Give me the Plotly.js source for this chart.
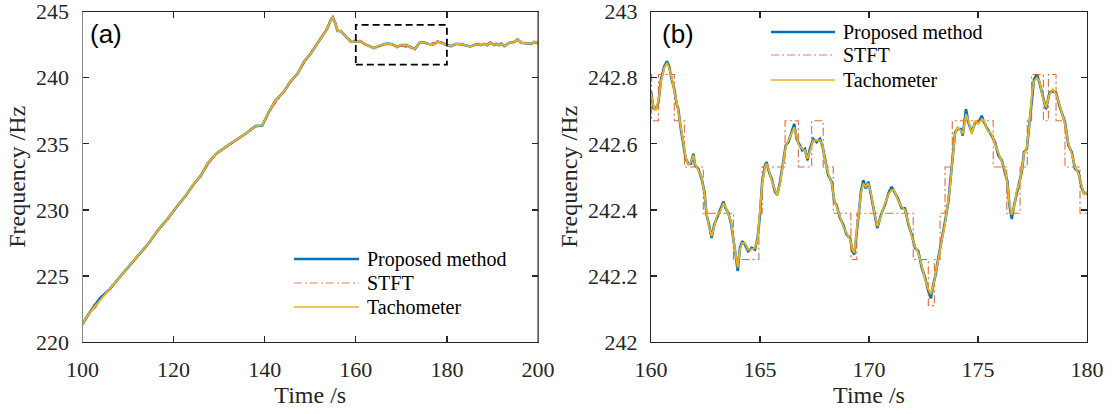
<!DOCTYPE html>
<html>
<head>
<meta charset="utf-8">
<script src="https://cdn.plot.ly/plotly-3.0.1.min.js"></script>
<style>html,body{margin:0;padding:0;background:#fff;}#chart{width:1113px;height:414px;}</style>
</head>
<body>
<div id="chart"></div>
<script>
// ---------- panel (a): 100-200 s ----------
const leftTime = [100, 101.6, 103.8, 106.0, 108.15, 110.3, 112.5, 114.7, 116.5, 118.7, 120.9, 122.7, 124.2, 126.0, 127.4, 129.3, 131.4, 133.6, 135.8, 138.0, 139.45, 140.9, 142.4, 144.2, 145.6, 147.2, 148.6, 150.1, 151.6, 152.7, 153.8, 154.5, 154.95, 155.5, 156.0, 156.7, 157.4, 158.2, 158.9, 160, 161, 162, 163, 164, 165, 166, 167, 168, 169, 170, 171, 172, 173, 174, 175, 176, 177, 178, 179, 180, 180.9, 182.0, 183.1, 184.2, 185.1, 186.0, 186.7, 187.5, 188.2, 188.9, 189.5, 190.4, 190.8, 191.5, 191.9, 192.6, 193.7, 194.8, 195.5, 196.3, 197.4, 198.5, 199.2, 199.9, 200];
const leftTacho = [221.36, 222.25, 223.14, 224.0, 224.9, 225.79, 226.67, 227.55, 228.44, 229.32, 230.33, 231.09, 231.85, 232.6, 233.48, 234.24, 234.75, 235.26, 235.76, 236.34, 236.39, 237.4, 238.29, 238.92, 239.7, 240.3, 241.2, 241.84, 242.6, 243.1, 243.75, 244.38, 244.58, 244.13, 243.54, 243.54, 243.29, 242.98, 242.73, 242.75, 242.78, 242.54, 242.38, 242.24, 242.39, 242.52, 242.58, 242.54, 242.32, 242.48, 242.47, 242.31, 242.19, 242.65, 242.66, 242.55, 242.52, 242.72, 242.66, 242.45, 242.4, 242.55, 242.55, 242.45, 242.37, 242.47, 242.56, 242.47, 242.57, 242.47, 242.68, 242.48, 242.57, 242.47, 242.6, 242.4, 242.65, 242.7, 242.9, 242.65, 242.6, 242.57, 242.72, 242.6, 242.62];
const leftProposed = [221.36, 222.25, 223.3, 224.0, 224.9, 225.79, 226.67, 227.55, 228.44, 229.32, 230.33, 231.09, 231.85, 232.6, 233.48, 234.24, 234.75, 235.26, 235.76, 236.34, 236.39, 237.4, 238.29, 238.92, 239.7, 240.3, 241.2, 241.84, 242.6, 243.1, 243.75, 244.38, 244.58, 244.13, 243.54, 243.54, 243.29, 242.98, 242.73, 242.75, 242.78, 242.54, 242.38, 242.24, 242.39, 242.52, 242.58, 242.54, 242.32, 242.48, 242.47, 242.31, 242.19, 242.65, 242.66, 242.55, 242.52, 242.72, 242.66, 242.45, 242.4, 242.55, 242.55, 242.45, 242.37, 242.47, 242.56, 242.47, 242.57, 242.47, 242.68, 242.48, 242.57, 242.47, 242.6, 242.4, 242.65, 242.7, 242.9, 242.65, 242.6, 242.57, 242.72, 242.6, 242.62];
const leftStftTime = [100, 101.6, 102.3, 102.5, 102.7, 103.8, 106.0, 110.3, 114.7, 118.7, 122.7, 126.0, 129.3, 133.6, 138.0, 139.45, 140.9, 144.2, 147.2, 150.1, 152.7, 154.5, 154.95, 155.5, 156.0, 156.7, 158.2, 160, 162, 164, 166, 168, 170, 172, 173, 174, 176, 178, 180, 182.0, 184.2, 186.0, 188.2, 189.5, 190.4, 192.6, 193.7, 195.5, 196.3, 198.5, 199.2, 200];
const leftStftFreq = [221.36, 222.25, 222.4, 223.0, 222.5, 223.14, 224.0, 225.79, 227.55, 229.32, 231.09, 232.6, 234.24, 235.26, 236.34, 236.39, 237.4, 238.92, 240.3, 241.84, 243.1, 244.38, 244.58, 244.13, 243.54, 243.54, 242.98, 242.81, 242.53, 242.25, 242.53, 242.53, 242.39, 242.25, 242.11, 242.67, 242.53, 242.81, 242.39, 242.53, 242.39, 242.53, 242.53, 242.67, 242.53, 242.39, 242.67, 242.81, 242.67, 242.53, 242.67, 242.53];

// ---------- panel (b): 160-180 s ----------
const rightTime = [160.00, 160.11, 160.21, 160.34, 160.46, 160.61, 160.73, 160.83, 160.95, 161.07, 161.18, 161.25, 161.38, 161.48, 161.59, 161.71, 161.83, 161.94, 162.02, 162.17, 162.32, 162.45, 162.55, 162.66, 162.78, 162.90, 163.01, 163.17, 163.32, 163.42, 163.55, 163.67, 163.78, 163.88, 163.98, 164.08, 164.19, 164.31, 164.46, 164.62, 164.77, 164.89, 165.00, 165.10, 165.23, 165.30, 165.41, 165.53, 165.69, 165.79, 165.92, 166.07, 166.18, 166.30, 166.45, 166.57, 166.68, 166.79, 166.94, 167.06, 167.18, 167.29, 167.44, 167.60, 167.75, 167.86, 167.98, 168.13, 168.29, 168.41, 168.51, 168.67, 168.82, 168.97, 169.13, 169.24, 169.33, 169.44, 169.54, 169.63, 169.74, 169.85, 169.97, 170.09, 170.25, 170.38, 170.55, 170.73, 170.92, 171.04, 171.16, 171.32, 171.50, 171.65, 171.81, 171.96, 172.11, 172.26, 172.42, 172.57, 172.72, 172.84, 172.95, 173.06, 173.18, 173.33, 173.49, 173.64, 173.72, 173.84, 173.95, 174.06, 174.21, 174.30, 174.45, 174.56, 174.71, 174.87, 175.02, 175.17, 175.28, 175.43, 175.63, 175.78, 175.94, 176.09, 176.24, 176.35, 176.44, 176.55, 176.66, 176.78, 176.90, 177.01, 177.11, 177.24, 177.36, 177.47, 177.57, 177.70, 177.82, 177.97, 178.12, 178.28, 178.43, 178.58, 178.74, 178.99, 179.15, 179.30, 179.45, 179.61, 179.76, 179.87, 180.00];
const rightTacho = [242.753, 242.713, 242.700, 242.730, 242.790, 242.830, 242.845, 242.830, 242.800, 242.760, 242.725, 242.700, 242.646, 242.600, 242.560, 242.535, 242.545, 242.565, 242.540, 242.520, 242.500, 242.450, 242.390, 242.350, 242.320, 242.350, 242.380, 242.395, 242.420, 242.410, 242.385, 242.365, 242.310, 242.270, 242.225, 242.280, 242.300, 242.300, 242.280, 242.280, 242.285, 242.310, 242.390, 242.480, 242.530, 242.540, 242.520, 242.490, 242.460, 242.445, 242.480, 242.550, 242.590, 242.610, 242.630, 242.650, 242.620, 242.595, 242.585, 242.580, 242.555, 242.580, 242.610, 242.610, 242.610, 242.600, 242.550, 242.510, 242.480, 242.430, 242.410, 242.380, 242.350, 242.330, 242.310, 242.280, 242.270, 242.340, 242.400, 242.450, 242.480, 242.470, 242.480, 242.450, 242.390, 242.350, 242.380, 242.420, 242.450, 242.460, 242.460, 242.430, 242.410, 242.400, 242.360, 242.320, 242.290, 242.270, 242.230, 242.190, 242.160, 242.145, 242.170, 242.210, 242.250, 242.310, 242.360, 242.430, 242.470, 242.560, 242.630, 242.650, 242.640, 242.630, 242.690, 242.670, 242.630, 242.670, 242.660, 242.675, 242.670, 242.640, 242.630, 242.600, 242.570, 242.545, 242.520, 242.480, 242.420, 242.385, 242.410, 242.460, 242.480, 242.520, 242.570, 242.590, 242.660, 242.750, 242.790, 242.800, 242.790, 242.740, 242.710, 242.750, 242.765, 242.750, 242.720, 242.660, 242.600, 242.570, 242.530, 242.510, 242.470, 242.445, 242.455];
const rightProposed = [242.758, 242.708, 242.705, 242.725, 242.795, 242.835, 242.850, 242.835, 242.795, 242.765, 242.720, 242.705, 242.640, 242.605, 242.555, 242.540, 242.540, 242.570, 242.535, 242.525, 242.495, 242.455, 242.385, 242.355, 242.315, 242.355, 242.375, 242.400, 242.425, 242.405, 242.390, 242.360, 242.315, 242.265, 242.215, 242.285, 242.305, 242.295, 242.275, 242.285, 242.280, 242.315, 242.385, 242.485, 242.535, 242.545, 242.515, 242.495, 242.455, 242.445, 242.485, 242.545, 242.595, 242.605, 242.635, 242.660, 242.615, 242.600, 242.580, 242.585, 242.550, 242.585, 242.615, 242.605, 242.615, 242.595, 242.555, 242.505, 242.485, 242.425, 242.415, 242.375, 242.355, 242.325, 242.315, 242.275, 242.265, 242.345, 242.395, 242.455, 242.490, 242.465, 242.485, 242.445, 242.395, 242.345, 242.385, 242.415, 242.455, 242.470, 242.455, 242.435, 242.405, 242.405, 242.355, 242.325, 242.285, 242.275, 242.225, 242.195, 242.155, 242.132, 242.175, 242.205, 242.255, 242.305, 242.365, 242.425, 242.475, 242.555, 242.635, 242.645, 242.645, 242.625, 242.705, 242.665, 242.635, 242.665, 242.665, 242.685, 242.665, 242.645, 242.625, 242.605, 242.565, 242.550, 242.515, 242.485, 242.415, 242.372, 242.415, 242.455, 242.485, 242.515, 242.575, 242.585, 242.665, 242.745, 242.795, 242.810, 242.785, 242.745, 242.705, 242.755, 242.760, 242.755, 242.715, 242.665, 242.595, 242.575, 242.525, 242.515, 242.465, 242.450, 242.450];
const stftTime = [160.00, 160.03, 160.34, 161.07, 161.53, 162.40, 163.78, 164.95, 165.10, 166.15, 166.76, 167.37, 167.90, 168.36, 169.17, 169.44, 172.03, 172.72, 173.00, 173.26, 173.49, 173.82, 175.70, 176.32, 176.93, 177.26, 177.46, 178.00, 178.23, 178.58, 178.99, 179.68, 180.00];
const stftFreq = [242.81, 242.67, 242.81, 242.67, 242.53, 242.39, 242.25, 242.39, 242.53, 242.67, 242.53, 242.67, 242.53, 242.39, 242.25, 242.39, 242.25, 242.11, 242.25, 242.39, 242.53, 242.67, 242.53, 242.39, 242.53, 242.67, 242.81, 242.67, 242.81, 242.67, 242.53, 242.39, 242.39];

const seriesNames = ['Proposed method', 'STFT', 'Tachometer'];
const leftXTicks = [100, 120, 140, 160, 180, 200];
const leftYTicks = [220, 225, 230, 235, 240, 245];
const rightXTicks = [160, 165, 170, 175, 180];
const rightYTicks = [242, 242.2, 242.4, 242.6, 242.8, 243];
const rightYTickText = ['242', '242.2', '242.4', '242.6', '242.8', '243'];

const BLUE = '#0072BD', RED = '#D95319', YEL = '#EDB120', AX = '#262626';
const SERIF = 'Liberation Serif';

function tr(x, y, xa, ya, kind) {
  const base = {x: x, y: y, xaxis: xa, yaxis: ya, mode: 'lines', showlegend: false, hoverinfo: 'skip'};
  if (kind === 0) base.line = {color: BLUE, width: 2.6};
  if (kind === 1) { base.line = {color: RED, width: 1.1, dash: '8px,3px,2px,3px', shape: xa === 'x2' ? 'hv' : 'linear'}; base.opacity = 0.85; }
  if (kind === 2) base.line = {color: YEL, width: 1.9};
  return base;
}

const data = [
  tr(leftTime, leftProposed, 'x', 'y', 0),
  tr(leftStftTime, leftStftFreq, 'x', 'y', 1),
  tr(leftTime, leftTacho, 'x', 'y', 2),
  tr(rightTime, rightProposed, 'x2', 'y2', 0),
  tr(stftTime, stftFreq, 'x2', 'y2', 1),
  tr(rightTime, rightTacho, 'x2', 'y2', 2)
];

function axis(extra) {
  return Object.assign({
    showline: true, linecolor: AX, linewidth: 1, mirror: 'ticks',
    ticks: 'inside', ticklen: 6, tickwidth: 1.3, tickcolor: AX,
    showgrid: false, zeroline: false, fixedrange: true,
    ticklabeloverflow: 'allow',
    tickfont: {family: SERIF, size: 22, color: AX}
  }, extra);
}

const xd1 = [82.5/1113, 538/1113], xd2 = [651/1113, 1087/1113];
const yd = [72/414, 402.3/414];

const layout = {
  width: 1113, height: 414,
  margin: {l: 0, r: 0, t: 0, b: 0},
  font: {family: SERIF},
  paper_bgcolor: '#fff', plot_bgcolor: '#fff',
  xaxis: axis({domain: xd1, range: [100, 200], tickvals: leftXTicks, anchor: 'y', ticklabelstandoff: 8,
    title: {text: 'Time /s', font: {family: SERIF, size: 24, color: AX}, standoff: 4}}),
  yaxis: axis({domain: yd, range: [220, 245], tickvals: leftYTicks, anchor: 'x', ticklabelstandoff: 8,
    linecolor: '#8a8a8a',
    title: {text: 'Frequency /Hz', font: {family: SERIF, size: 24, color: AX}, standoff: 3}}),
  xaxis2: axis({domain: xd2, range: [160, 180], tickvals: rightXTicks, anchor: 'y2', ticklabelstandoff: 8,
    title: {text: 'Time /s', font: {family: SERIF, size: 24, color: AX}, standoff: 4}}),
  yaxis2: axis({domain: yd, range: [242, 243], tickvals: rightYTicks, ticktext: rightYTickText, anchor: 'x2', ticklabelstandoff: 8,
    title: {text: 'Frequency /Hz', font: {family: SERIF, size: 24, color: AX}, standoff: 3}}),
  shapes: [
    {type: 'rect', xref: 'x', yref: 'y', x0: 160, x1: 180, y0: 241, y1: 244,
     line: {color: '#000', width: 1.8, dash: '7px,4px'}, layer: 'above'},
    {type: 'line', xref: 'x domain', yref: 'y domain', x0: 1, x1: 1, y0: 0, y1: 1,
     line: {color: AX, width: 1}, layer: 'above'}
  ],
  annotations: [
    {text: '(a)', xref: 'x domain', yref: 'y domain', x: 0.012, y: 0.985, xanchor: 'left', yanchor: 'top', showarrow: false,
     font: {family: 'Liberation Sans', size: 26, color: '#000'}},
    {text: '(b)', xref: 'x2 domain', yref: 'y2 domain', x: 0.02, y: 0.985, xanchor: 'left', yanchor: 'top', showarrow: false,
     font: {family: 'Liberation Sans', size: 26, color: '#000'}}
  ]
};

// legends (MATLAB-style long line samples) built from seriesNames
function addLegend(x0, x1, ys) {
  const styles = [
    {color: BLUE, width: 2.6},
    {color: RED, width: 1.2, dash: '8px,3px,2px,3px'},
    {color: YEL, width: 1.9}
  ];
  seriesNames.forEach((nm, i) => {
    layout.shapes.push({type: 'line', xref: 'paper', yref: 'paper', x0: x0/1113, x1: x1/1113,
      y0: 1 - ys[i]/414, y1: 1 - ys[i]/414, line: styles[i], opacity: i === 1 ? 0.7 : (i === 2 ? 0.75 : 1)});
    layout.annotations.push({text: nm, xref: 'paper', yref: 'paper', x: (x1 + 6)/1113, y: 1 - ys[i]/414,
      xanchor: 'left', yanchor: 'middle', showarrow: false, font: {family: SERIF, size: 20, color: '#000'}});
  });
}
addLegend(294, 359, [259, 283, 307]);
addLegend(771, 835, [32, 55, 80]);

Plotly.newPlot('chart', data, layout, {staticPlot: true, displayModeBar: false});
</script>
</body>
</html>
